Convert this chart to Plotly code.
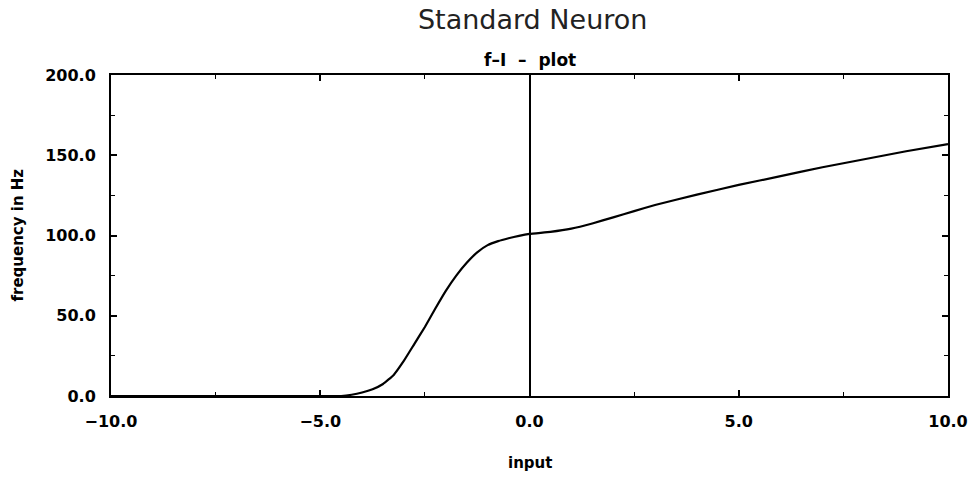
import plotly.graph_objects as go

x_input = [-10.0, -8.0, -6.0, -5.0, -4.5, -4.25, -4.0, -3.75, -3.5, -3.25, -3.0, -2.75, -2.5, -2.25, -2.0, -1.75, -1.5, -1.25, -1.0, -0.75, -0.5, -0.25, 0.0, 0.5, 1.0, 1.5, 2.0, 2.5, 3.0, 4.0, 5.0, 6.0, 7.0, 8.0, 9.0, 10.0]
freq_hz = [0.0, 0.0, 0.0, 0.0, 0.0, 0.8, 2.2, 4.2, 7.5, 13.0, 22.0, 32.5, 43.0, 54.5, 65.5, 75.0, 83.0, 89.5, 94.0, 96.5, 98.3, 99.8, 101.0, 102.3, 104.3, 107.5, 111.3, 115.2, 119.0, 125.5, 131.5, 137.0, 142.5, 147.5, 152.5, 157.0]

x_ticks = [-10.0, -5.0, 0.0, 5.0, 10.0]
y_ticks = [0.0, 50.0, 100.0, 150.0, 200.0]

FONT = "DejaVu Sans, sans-serif"

fig = go.Figure()
fig.add_trace(go.Scatter(x=x_input, y=freq_hz, mode="lines",
                         line=dict(color="black", width=2.2, shape="spline", smoothing=0.3),
                         showlegend=False, hoverinfo="skip"))

tickfont = dict(family=FONT, size=16, color="black", weight="bold")
titlefont = dict(family=FONT, size=15, color="black", weight="bold")

fig.update_layout(
    width=972, height=477,
    margin=dict(l=111, r=24, t=75, b=81),
    paper_bgcolor="white", plot_bgcolor="white",
    showlegend=False,
    title=dict(text="Standard Neuron", x=0.548, xanchor="center", y=0.958, yanchor="middle",
               font=dict(family=FONT, size=27, color="#222")),
    xaxis=dict(range=[-10, 10], tickvals=x_ticks, ticktext=[f"{v:.1f}".replace("-", "\u2212") for v in x_ticks],
               ticks="inside", ticklen=6, tickwidth=1.5, tickcolor="black",
               minor=dict(dtick=2.5, tick0=0, ticks="inside", ticklen=4, tickcolor="black", tickwidth=1.2),
               showline=True, linecolor="black", linewidth=2, mirror="ticks",
               showgrid=False, zeroline=True, zerolinecolor="black", zerolinewidth=1.5,
               tickfont=tickfont, ticklabelstandoff=10, automargin=False),
    yaxis=dict(range=[0, 200], tickvals=y_ticks, ticktext=[f"{v:.1f}" for v in y_ticks],
               ticks="inside", ticklen=6, tickwidth=1.5, tickcolor="black",
               minor=dict(dtick=25, tick0=0, ticks="inside", ticklen=4, tickcolor="black", tickwidth=1.2),
               showline=True, linecolor="black", linewidth=2, mirror="ticks",
               showgrid=False, zeroline=False,
               tickfont=tickfont, ticklabelstandoff=10, automargin=False),
    annotations=[
        dict(text="f\u2013I  \u2013  plot", xref="paper", yref="paper", x=0.5, y=1.0, yanchor="middle",
             yshift=15, showarrow=False,
             font=dict(family=FONT, size=17, color="black", weight="bold")),
        dict(text="input", xref="paper", yref="paper", x=0.5, y=0.0, yanchor="middle", xanchor="center",
             yshift=-67, showarrow=False, font=titlefont),
        dict(text="frequency in Hz", xref="paper", yref="paper", x=0.0, y=0.5, yanchor="middle", xanchor="center",
             xshift=-94, textangle=-90, showarrow=False, font=titlefont),
    ],
)

fig.write_html("out.html", config={"displayModeBar": False},
               post_script="document.body.style.margin='0px'; document.body.style.overflow='hidden';")
